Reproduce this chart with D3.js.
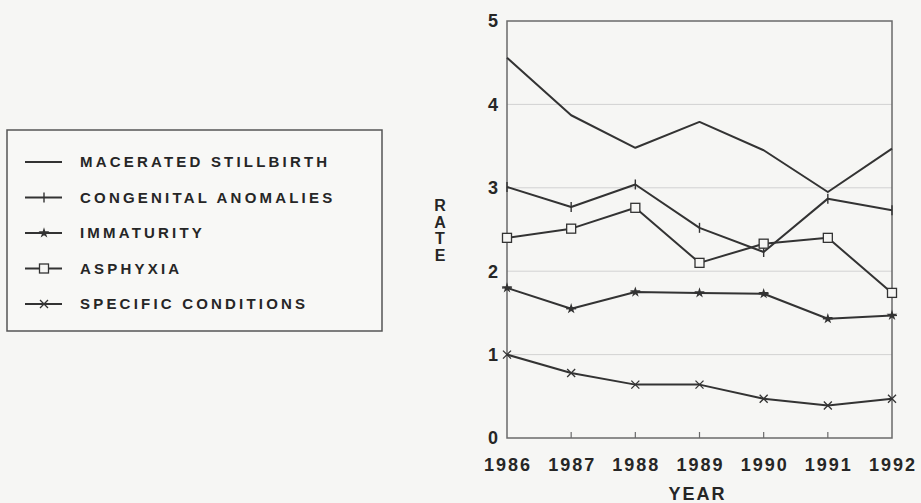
<!DOCTYPE html>
<html>
<head>
<meta charset="utf-8">
<script src="https://cdn.jsdelivr.net/npm/d3@7"></script>
<style>
  body { margin: 0; background: #f6f6f4; }
  svg { display: block; }
  .lbl { font-family: "Liberation Sans", Arial, sans-serif; font-weight: bold; fill: #262626; }
</style>
</head>
<body>
<svg width="921" height="503"></svg>
<script>
var years = [1986, 1987, 1988, 1989, 1990, 1991, 1992];
var yTicks = [0, 1, 2, 3, 4, 5];

var macerated   = [4.56, 3.87, 3.48, 3.79, 3.45, 2.95, 3.47];
var congenital  = [3.01, 2.77, 3.04, 2.52, 2.23, 2.87, 2.73];
var immaturity  = [1.80, 1.55, 1.75, 1.74, 1.73, 1.43, 1.47];
var asphyxia    = [2.40, 2.51, 2.76, 2.10, 2.33, 2.40, 1.74];
var specific    = [1.00, 0.78, 0.64, 0.64, 0.47, 0.39, 0.47];

var seriesNames = ["MACERATED STILLBIRTH", "CONGENITAL ANOMALIES", "IMMATURITY", "ASPHYXIA", "SPECIFIC CONDITIONS"];
var seriesValues = [macerated, congenital, immaturity, asphyxia, specific];
var seriesMarks = ["none", "tick", "star", "square", "cross"];

var svg = d3.select("svg"),
    margin = {top: 21, right: 29, bottom: 65, left: 507},
    width = 921 - margin.left - margin.right,
    height = 503 - margin.top - margin.bottom,
    g = svg.append("g").attr("transform", "translate(" + margin.left + "," + margin.top + ")");

var x = d3.scalePoint().domain(years).range([0, width]);
var y = d3.scaleLinear().domain([0, 5]).range([height, 0]);

var ink = "#333";

// gridlines
g.selectAll(".grid")
  .data(yTicks.slice(1, -1))
  .enter().append("line")
    .attr("x1", 0).attr("x2", width)
    .attr("y1", function(d) { return y(d); })
    .attr("y2", function(d) { return y(d); })
    .attr("stroke", "#d2d2d2").attr("stroke-width", 1);

// frame
g.append("rect")
  .attr("width", width).attr("height", height)
  .attr("fill", "none").attr("stroke", "#6a6a6a").attr("stroke-width", 1.5);

// x ticks inward
g.selectAll(".xt")
  .data(years.slice(1, -1))
  .enter().append("line")
    .attr("x1", function(d) { return x(d); })
    .attr("x2", function(d) { return x(d); })
    .attr("y1", height).attr("y2", height - 6)
    .attr("stroke", "#6a6a6a").attr("stroke-width", 1.2);

// tick labels
g.selectAll(".xl")
  .data(years)
  .enter().append("text")
    .attr("class", "lbl")
    .attr("x", function(d) { return x(d) + 1; })
    .attr("y", height + 33)
    .attr("text-anchor", "middle")
    .style("font-size", "18px")
    .style("letter-spacing", "2px")
    .text(function(d) { return d; });

g.selectAll(".yl")
  .data(yTicks)
  .enter().append("text")
    .attr("class", "lbl")
    .attr("x", -9)
    .attr("y", function(d) { return y(d); })
    .attr("dy", "0.36em")
    .attr("text-anchor", "end")
    .style("font-size", "18px")
    .text(function(d) { return d; });

g.append("text")
  .attr("class", "lbl")
  .attr("x", width / 2 - 2)
  .attr("y", height + 62)
  .attr("text-anchor", "middle")
  .style("font-size", "18px")
  .style("letter-spacing", "2px")
  .text("YEAR");

// vertical RATE label
var rate = "RATE".split("");
svg.selectAll(".rl")
  .data(rate)
  .enter().append("text")
    .attr("class", "lbl")
    .attr("x", 440)
    .attr("y", function(d, i) { return 211 + i * 16.5; })
    .attr("text-anchor", "middle")
    .style("font-size", "16px")
    .text(function(d) { return d; });

function drawMark(sel, type) {
  if (type === "tick") {
    sel.append("line").attr("x1", 0).attr("x2", 0).attr("y1", -5).attr("y2", 5)
      .attr("stroke", ink).attr("stroke-width", 1.4);
  } else if (type === "star") {
    sel.append("path").attr("d", d3.symbol().type(d3.symbolStar).size(36)())
      .attr("fill", ink);
    sel.append("line").attr("x1", -5).attr("x2", 5).attr("stroke", ink).attr("stroke-width", 1.4);
  } else if (type === "square") {
    sel.append("rect").attr("x", -4.5).attr("y", -4.5).attr("width", 9).attr("height", 9)
      .attr("fill", "#f6f6f4").attr("stroke", ink).attr("stroke-width", 1.3);
  } else if (type === "cross") {
    sel.append("path").attr("d", "M-4,-4L4,4M-4,4L4,-4")
      .attr("stroke", ink).attr("stroke-width", 1.3);
  }
}

var line = d3.line()
  .x(function(d, i) { return x(years[i]); })
  .y(function(d) { return y(d); });

seriesValues.forEach(function(vals, s) {
  g.append("path")
    .datum(vals)
    .attr("fill", "none")
    .attr("stroke", ink)
    .attr("stroke-width", 2)
    .attr("stroke-linejoin", "round")
    .attr("d", line);
  g.selectAll(".m" + s)
    .data(vals)
    .enter().append("g")
      .attr("transform", function(d, i) { return "translate(" + x(years[i]) + "," + y(d) + ")"; })
      .each(function() { drawMark(d3.select(this), seriesMarks[s]); });
});

// legend
var legend = svg.append("g").attr("transform", "translate(7,130)");
legend.append("rect")
  .attr("width", 375).attr("height", 201)
  .attr("fill", "#f8f8f6").attr("stroke", "#555").attr("stroke-width", 1.5);

var item = legend.selectAll(".li")
  .data(seriesNames)
  .enter().append("g")
    .attr("transform", function(d, i) { return "translate(0," + (32 + i * 35.5) + ")"; });

item.append("line")
  .attr("x1", 18).attr("x2", 55)
  .attr("stroke", ink).attr("stroke-width", 2);

item.append("g")
  .attr("transform", "translate(37,0)")
  .each(function(d, i) { drawMark(d3.select(this), seriesMarks[i]); });

item.append("text")
  .attr("class", "lbl")
  .attr("x", 73)
  .attr("dy", "0.36em")
  .style("font-size", "15px")
  .style("letter-spacing", "3.2px")
  .text(function(d) { return d; });
</script>
</body>
</html>
